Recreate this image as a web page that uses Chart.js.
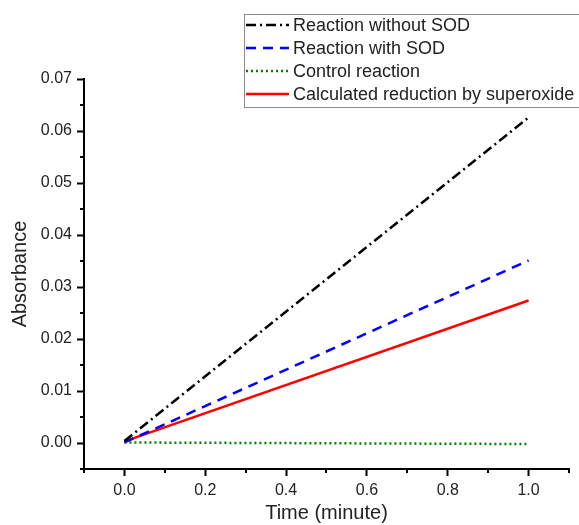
<!DOCTYPE html>
<html>
<head>
<meta charset="utf-8">
<script src="https://cdn.jsdelivr.net/npm/chart.js@4"></script>
<style>
  html, body { margin:0; padding:0; background:#fff; }
  #wrap { width:579px; height:525px; }
</style>
</head>
<body>
<div id="wrap"><canvas id="chart" width="579" height="525"></canvas></div>
<script>
// --- data ---
const time = [0, 1.0];
const withoutSOD = [0.0004, 0.0626];
const withSOD = [0.0001, 0.0351];
const control = [0.0001, -0.0002];
const calculated = [0.0003, 0.0274];

const seriesNames = [
  'Reaction without SOD',
  'Reaction with SOD',
  'Control reaction',
  'Calculated reduction by superoxide'
];

const xTicks = [0, 0.2, 0.4, 0.6, 0.8, 1.0];
const xMinor = [-0.1, 0.1, 0.3, 0.5, 0.7, 0.9, 1.1];
const yTicks = [0, 0.01, 0.02, 0.03, 0.04, 0.05, 0.06, 0.07];
const yMinor = [-0.005, 0.005, 0.015, 0.025, 0.035, 0.045, 0.055, 0.065];

const FONT = 'Arial, "Liberation Sans", sans-serif';
const pts = (ys) => time.map((t, i) => ({ x: t, y: ys[i] }));

const styles = [
  { color: '#000000', dash: [10, 4, 2, 4] },
  { color: '#0000ff', dash: [10, 7] },
  { color: '#008000', dash: [2, 3] },
  { color: '#ff0000', dash: [] }
];

const minorTicks = {
  id: 'minorTicks',
  afterDraw(chart) {
    const ctx = chart.ctx;
    const xs = chart.scales.x, ys = chart.scales.y;
    ctx.save();
    ctx.strokeStyle = '#000';
    ctx.lineWidth = 2;
    xMinor.forEach(v => {
      const px = Math.round(xs.getPixelForValue(v));
      ctx.beginPath();
      ctx.moveTo(px, xs.top);
      ctx.lineTo(px, xs.top + 4);
      ctx.stroke();
    });
    yMinor.forEach(v => {
      const py = Math.round(ys.getPixelForValue(v));
      ctx.beginPath();
      ctx.moveTo(ys.right, py);
      ctx.lineTo(ys.right - 4, py);
      ctx.stroke();
    });
    ctx.restore();
  }
};

// legend box drawn over the top-right corner, like the original
const boxLegend = {
  id: 'boxLegend',
  afterDraw(chart) {
    const ctx = chart.ctx;
    ctx.save();
    ctx.fillStyle = '#fff';
    ctx.fillRect(244, 14, 340, 93);
    ctx.strokeStyle = '#8c8c8c';
    ctx.lineWidth = 1;
    ctx.strokeRect(244.5, 14.5, 340, 93);
    ctx.font = '18px ' + FONT;
    ctx.textBaseline = 'middle';
    chart.data.datasets.forEach((ds, i) => {
      const y = 25 + i * 23;
      ctx.strokeStyle = ds.borderColor;
      ctx.lineWidth = 2.5;
      ctx.setLineDash(ds.borderDash || []);
      ctx.beginPath();
      ctx.moveTo(246, y);
      ctx.lineTo(289, y);
      ctx.stroke();
      ctx.setLineDash([]);
      ctx.fillStyle = '#222';
      ctx.fillText(ds.label, 293, y + 1);
    });
    ctx.restore();
  }
};

const datasets = [withoutSOD, withSOD, control, calculated].map((ys, i) => ({
  label: seriesNames[i],
  data: pts(ys),
  borderColor: styles[i].color,
  backgroundColor: styles[i].color,
  borderDash: styles[i].dash,
  borderWidth: 2.5,
  pointRadius: 0,
  fill: false,
  tension: 0
}));

new Chart(document.getElementById('chart'), {
  type: 'line',
  data: { datasets },
  options: {
    responsive: false,
    animation: false,
    layout: { padding: { top: 79, right: 10, left: 0, bottom: 0 } },
    plugins: { legend: { display: false }, tooltip: { enabled: false } },
    scales: {
      x: {
        type: 'linear',
        min: -0.1,
        max: 1.1,
        afterFit: s => { s.height = 56; },
        afterBuildTicks: s => { s.ticks = xTicks.map(v => ({ value: v })); },
        border: { display: true, color: '#000', width: 2 },
        grid: { drawOnChartArea: false, drawTicks: true, tickLength: 7, tickWidth: 2, tickColor: '#000' },
        ticks: {
          color: '#222',
          font: { family: FONT, size: 16 },
          padding: 5,
          maxRotation: 0,
          callback: v => Number(v).toFixed(1)
        },
        title: {
          display: true,
          text: 'Time (minute)',
          color: '#222',
          font: { family: FONT, size: 20 },
          padding: { top: 0, bottom: 0 }
        }
      },
      y: {
        type: 'linear',
        min: -0.005,
        max: 0.07,
        afterFit: s => { s.width = 84; },
        afterBuildTicks: s => { s.ticks = yTicks.map(v => ({ value: v })); },
        border: { display: true, color: '#000', width: 2 },
        grid: { drawOnChartArea: false, drawTicks: true, tickLength: 7, tickWidth: 2, tickColor: '#000' },
        ticks: {
          color: '#222',
          font: { family: FONT, size: 16 },
          padding: 5,
          callback: v => Number(v).toFixed(2)
        },
        title: {
          display: true,
          text: 'Absorbance',
          color: '#222',
          font: { family: FONT, size: 20 },
          padding: { top: 8, bottom: 0 }
        }
      }
    }
  },
  plugins: [minorTicks, boxLegend]
});
</script>
</body>
</html>
